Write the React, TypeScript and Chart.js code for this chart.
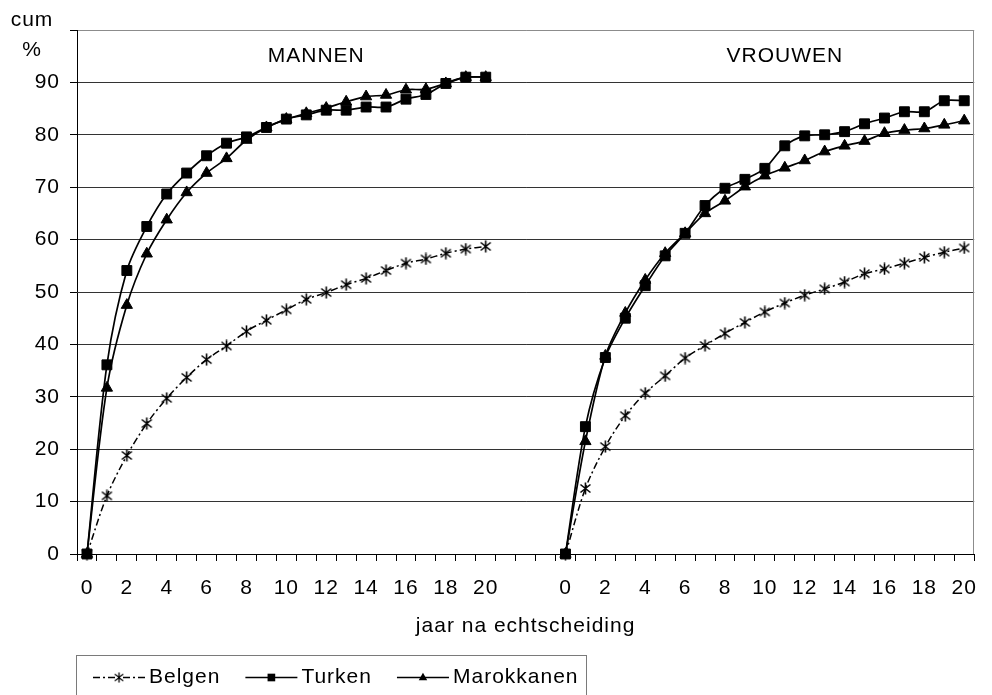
import React, { useEffect, useRef } from 'react';
import { Chart, registerables } from 'chart.js';

Chart.register(...registerables);

const FONT = '"Liberation Sans", Arial, Helvetica, sans-serif';
const FONT_SIZE = 21;

const yearLabels = ['0', '1', '2', '3', '4', '5', '6', '7', '8', '9', '10', '11', '12', '13', '14', '15', '16', '17', '18', '19', '20'];
const gapLabels = ['', '', ''];
const xLabels = [...yearLabels, ...gapLabels, ...yearLabels];

const panelTitles = ['MANNEN', 'VROUWEN'];
const seriesNames = ['Belgen', 'Turken', 'Marokkanen'];
const xTitle = 'jaar na echtscheiding';
const yTitle = ['cum', '%'];

const belgenMannen = [0, 11.1, 18.8, 24.9, 29.7, 33.7, 37.1, 39.7, 42.5, 44.6, 46.6, 48.6, 49.9, 51.4, 52.6, 54.1, 55.5, 56.3, 57.4, 58.2, 58.7];
const turkenMannen = [0, 36.1, 54.1, 62.5, 68.7, 72.7, 76.0, 78.4, 79.6, 81.4, 83.0, 83.8, 84.7, 84.7, 85.3, 85.3, 86.8, 87.7, 89.8, 91.0, 91.0];
const marokkanenMannen = [0, 31.7, 47.5, 57.3, 63.8, 69.0, 72.7, 75.5, 79.0, 81.4, 83.0, 84.1, 85.1, 86.3, 87.3, 87.6, 88.6, 88.7, 89.8, 91.0, 91.0];

const belgenVrouwen = [0, 12.5, 20.5, 26.4, 30.7, 34.0, 37.4, 39.8, 42.1, 44.2, 46.2, 47.9, 49.4, 50.6, 51.9, 53.5, 54.4, 55.5, 56.6, 57.6, 58.4];
const turkenVrouwen = [0, 24.3, 37.5, 45.0, 51.2, 56.9, 61.2, 66.5, 69.8, 71.5, 73.6, 77.9, 79.8, 80.0, 80.6, 82.1, 83.2, 84.4, 84.4, 86.5, 86.5];
const marokkanenVrouwen = [0, 21.5, 37.8, 46.0, 52.3, 57.4, 61.2, 65.0, 67.4, 70.1, 72.2, 73.7, 75.1, 76.8, 77.9, 78.8, 80.3, 80.9, 81.2, 81.9, 82.7];

const gapValues = [null, null, null];

function joinPanels(m: number[], v: number[]) {
  return [...m, ...gapValues, ...v];
}

function makeAsterisk(size: number, lw: number) {
  const c = document.createElement('canvas');
  c.width = size;
  c.height = size;
  const g = c.getContext('2d')!;
  g.strokeStyle = '#000';
  g.lineWidth = lw;
  g.lineCap = 'butt';
  const a = 1.5;
  const b = size - 1.5;
  g.beginPath();
  g.moveTo(a, a + 1);
  g.lineTo(b, b - 1);
  g.moveTo(b, a + 1);
  g.lineTo(a, b - 1);
  g.moveTo(size / 2, 0.5);
  g.lineTo(size / 2, size - 0.5);
  g.stroke();
  return c;
}

function drawMarker(ctx: CanvasRenderingContext2D, style: any, x: number, y: number, scale: number) {
  ctx.save();
  ctx.fillStyle = '#000';
  ctx.strokeStyle = '#000';
  if (style instanceof HTMLCanvasElement) {
    const w = style.width * scale;
    ctx.drawImage(style, x - w / 2, y - w / 2, w, w);
  } else if (style === 'rect') {
    const s = 9 * scale;
    ctx.fillRect(x - s / 2, y - s / 2, s, s);
  } else if (style === 'triangle') {
    const w = 10 * scale;
    const h = 9 * scale;
    ctx.beginPath();
    ctx.moveTo(x, y - h / 2 - 1);
    ctx.lineTo(x + w / 2, y + h / 2 - 1);
    ctx.lineTo(x - w / 2, y + h / 2 - 1);
    ctx.closePath();
    ctx.fill();
  }
  ctx.restore();
}

const decorPlugin = {
  id: 'decor',
  beforeLayout(chart: any) {
    chart.ctx.letterSpacing = '1px';
  },
  beforeDraw(chart: any) {
    chart.ctx.letterSpacing = '1px';
  },
  beforeDatasetsDraw(chart: any) {
    const { ctx, chartArea: a } = chart;
    const xs = chart.scales.x;
    const ys = chart.scales.y;
    ctx.save();
    ctx.strokeStyle = '#8c8c8c';
    ctx.lineWidth = 1;
    ctx.beginPath();
    const rx = Math.round(a.right) - 0.5;
    ctx.moveTo(rx, a.top);
    ctx.lineTo(rx, a.bottom);
    ctx.stroke();

    ctx.fillStyle = '#000';
    ctx.font = `${FONT_SIZE}px ${FONT}`;
    ctx.letterSpacing = '1px';
    ctx.textAlign = 'center';
    ctx.textBaseline = 'middle';
    ctx.fillText(panelTitles[0], xs.getPixelForValue(11.5), ys.getPixelForValue(95));
    ctx.fillText(panelTitles[1], xs.getPixelForValue(35), ys.getPixelForValue(95));
    ctx.restore();
  },
  afterDraw(chart: any) {
    const { ctx, chartArea: a } = chart;
    ctx.save();
    ctx.font = `${FONT_SIZE}px ${FONT}`;
    ctx.letterSpacing = '1px';
    ctx.fillStyle = '#000';
    ctx.textAlign = 'center';
    ctx.textBaseline = 'middle';
    ctx.fillText(yTitle[0], 32, a.top - 9.5);
    ctx.fillText(yTitle[1], 32, a.top + 20.5);

    // legend
    const boxLeft = a.left - 1;
    const boxTop = chart.height - 40;
    const textY = boxTop + 22.5;
    let x = boxLeft + 17;
    ctx.textAlign = 'left';
    chart.data.datasets.forEach((ds: any) => {
      ctx.save();
      ctx.strokeStyle = '#000';
      ctx.lineWidth = ds.borderWidth;
      ctx.setLineDash(ds.borderDash || []);
      ctx.beginPath();
      ctx.moveTo(x, textY);
      ctx.lineTo(x + 52, textY);
      ctx.stroke();
      ctx.restore();
      drawMarker(ctx, ds.pointStyle, x + 26, textY, 0.85);
      ctx.fillText(ds.label, x + 56, textY);
      x = x + 56 + ctx.measureText(ds.label).width + 25;
    });
    const boxRight = x - 25 + 7;
    ctx.strokeStyle = '#7a7a7a';
    ctx.lineWidth = 1;
    ctx.setLineDash([]);
    ctx.strokeRect(Math.round(boxLeft) + 0.5, Math.round(boxTop) + 0.5, Math.round(boxRight - boxLeft), 60);
    ctx.restore();
  },
};

export default function App() {
  const ref = useRef<HTMLCanvasElement | null>(null);

  useEffect(() => {
    const canvas = ref.current!;
    const asterisk = makeAsterisk(13, 1.6);
    Chart.defaults.font.family = FONT;
    Chart.defaults.font.size = FONT_SIZE;
    Chart.defaults.color = '#000';

    const common = {
      borderColor: '#000',
      backgroundColor: '#000',
      pointBackgroundColor: '#000',
      pointBorderColor: '#000',
      pointBorderWidth: 1,
      tension: 0.3,
      clip: false as any,
      spanGaps: false,
    };

    const chart = new Chart(canvas, {
      type: 'line',
      data: {
        labels: xLabels,
        datasets: [
          {
            ...common,
            label: seriesNames[0],
            data: joinPanels(belgenMannen, belgenVrouwen),
            borderWidth: 1.5,
            borderDash: [7, 3, 2, 3],
            pointStyle: asterisk as any,
            pointRadius: 6,
          },
          {
            ...common,
            label: seriesNames[1],
            data: joinPanels(turkenMannen, turkenVrouwen),
            borderWidth: 1.7,
            pointStyle: 'rect',
            pointRadius: 7,
          },
          {
            ...common,
            label: seriesNames[2],
            data: joinPanels(marokkanenMannen, marokkanenVrouwen),
            borderWidth: 1.7,
            pointStyle: 'triangle',
            pointRadius: 6.5,
          },
        ],
      },
      options: {
        responsive: false,
        animation: false,
        devicePixelRatio: 1,
        layout: { padding: { left: 0, right: 3, top: 30, bottom: 0 } },
        plugins: {
          legend: { display: false },
          tooltip: { enabled: false },
        },
        scales: {
          x: {
            type: 'category',
            offset: true,
            grid: {
              offset: true,
              drawOnChartArea: false,
              drawTicks: true,
              tickLength: 7,
              color: '#000',
              tickColor: '#000',
            },
            border: { display: true, color: '#000', width: 1 },
            ticks: {
              autoSkip: false,
              maxRotation: 0,
              minRotation: 0,
              padding: 15,
              color: '#000',
              callback: (_v: any, i: number) => {
                const l = xLabels[i];
                return l !== '' && Number(l) % 2 === 0 ? l : '';
              },
            },
            title: {
              display: true,
              text: xTitle,
              color: '#000',
              font: { size: FONT_SIZE, family: FONT },
              padding: { top: 0, bottom: 56 },
            },
            afterFit: (s: any) => {
              s.height = 141;
            },
          },
          y: {
            min: 0,
            max: 100,
            ticks: {
              stepSize: 10,
              padding: 10,
              color: '#000',
              callback: (v: any) => (v === 100 ? '' : String(v)),
            },
            grid: {
              drawTicks: true,
              tickLength: 7,
              tickColor: '#000',
              color: (c: any) => (c.tick && c.tick.value === 100 ? '#8c8c8c' : '#333333'),
            },
            border: { display: true, color: '#000', width: 1 },
            afterFit: (s: any) => {
              s.width = 77;
            },
          },
        },
      },
      plugins: [decorPlugin],
    });

    return () => {
      chart.destroy();
    };
  }, []);

  return (
    <div style={{ position: 'absolute', left: 0, top: 0, width: 992, height: 695, background: '#fff' }}>
      <canvas ref={ref} width={992} height={695} style={{ display: 'block', width: 992, height: 695 }} />
    </div>
  );
}
